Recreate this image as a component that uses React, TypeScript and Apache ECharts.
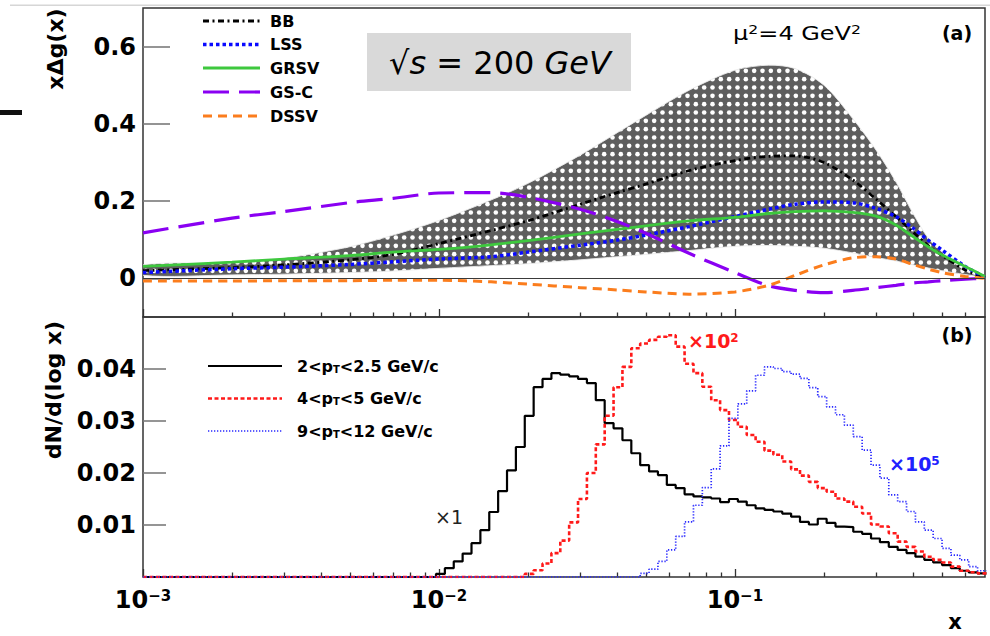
import React, { useEffect, useRef } from 'react';
import * as echarts from 'echarts';

const FONT = '"DejaVu Sans", "Liberation Sans", Arial, sans-serif';

// ---------- Panel (a): x*Delta g(x) at mu^2 = 4 GeV^2 ----------
const xKnots = [0.001, 0.002, 0.003, 0.005, 0.007, 0.01, 0.015, 0.02, 0.03, 0.04, 0.05, 0.07, 0.1, 0.13, 0.16, 0.2, 0.25, 0.3, 0.35, 0.4, 0.45, 0.5, 0.6, 0.7];
const bbCentral = [0.020, 0.028, 0.035, 0.048, 0.062, 0.090, 0.124, 0.149, 0.192, 0.222, 0.244, 0.279, 0.305, 0.316, 0.317, 0.300, 0.255, 0.205, 0.160, 0.120, 0.085, 0.060, 0.022, 0.003];
const bbBandLow = [0.008, 0.009, 0.011, 0.015, 0.019, 0.026, 0.033, 0.038, 0.048, 0.056, 0.062, 0.072, 0.083, 0.085, 0.083, 0.078, 0.066, 0.054, 0.045, 0.035, 0.027, 0.020, 0.010, 0.002];
const bbBandHigh = [0.035, 0.041, 0.052, 0.082, 0.112, 0.150, 0.203, 0.246, 0.319, 0.377, 0.422, 0.487, 0.539, 0.552, 0.543, 0.500, 0.414, 0.332, 0.250, 0.168, 0.104, 0.069, 0.020, 0.002];
const lss = [0.015, 0.025, 0.029, 0.036, 0.043, 0.050, 0.056, 0.068, 0.086, 0.099, 0.112, 0.134, 0.160, 0.179, 0.192, 0.198, 0.196, 0.181, 0.160, 0.130, 0.099, 0.074, 0.031, 0.003];
const grsv = [0.031, 0.042, 0.050, 0.059, 0.068, 0.075, 0.087, 0.098, 0.115, 0.127, 0.136, 0.149, 0.158, 0.168, 0.173, 0.175, 0.171, 0.161, 0.138, 0.108, 0.082, 0.061, 0.031, 0.005];
const gsc = [0.118, 0.156, 0.173, 0.196, 0.207, 0.221, 0.222, 0.210, 0.179, 0.147, 0.117, 0.065, 0.015, -0.019, -0.031, -0.037, -0.031, -0.024, -0.018, -0.012, -0.009, -0.006, -0.002, 0.0];
const dssv = [-0.007, -0.007, -0.006, -0.006, -0.005, -0.005, -0.009, -0.015, -0.024, -0.030, -0.035, -0.041, -0.035, -0.018, 0.008, 0.035, 0.053, 0.056, 0.050, 0.036, 0.024, 0.015, 0.005, 0.0];
const curveNames = ['BB', 'LSS', 'GRSV', 'GS-C', 'DSSV'];

// ---------- Panel (b): dN/d(log x) histograms ----------
const histLogMin = -3;
const histLogBinWidth = 0.03;
const ptBinNames = ['2<pT<2.5 GeV/c', '4<pT<5 GeV/c', '9<pT<12 GeV/c'];
const scaleLabels = ['×1', '×10', '×10'];
const hist1FirstBin = 33;
const hist1 = [0.0006, 0.0017, 0.0030, 0.0045, 0.0065, 0.0090, 0.0125, 0.0165, 0.0205, 0.0250, 0.0310, 0.0365, 0.0381, 0.0392, 0.0389, 0.0386, 0.0381, 0.0373, 0.0340, 0.0296, 0.0286, 0.0263, 0.0238, 0.0215, 0.0203, 0.0196, 0.0177, 0.0171, 0.0159, 0.0155, 0.0153, 0.0151, 0.0144, 0.0150, 0.0145, 0.0138, 0.0132, 0.0129, 0.0126, 0.0122, 0.0116, 0.0106, 0.0101, 0.0112, 0.0104, 0.0097, 0.0096, 0.0087, 0.0083, 0.0074, 0.0067, 0.0058, 0.0052, 0.0046, 0.0039, 0.0033, 0.0028, 0.0023, 0.0017, 0.0012, 0.0009, 0.0007];
const hist2FirstBin = 43;
const hist2 = [0.0006, 0.0013, 0.0026, 0.0046, 0.0070, 0.0105, 0.0150, 0.0200, 0.0255, 0.0310, 0.0365, 0.0404, 0.0440, 0.0449, 0.0456, 0.0462, 0.0465, 0.0443, 0.0410, 0.0392, 0.0366, 0.0340, 0.0321, 0.0302, 0.0289, 0.0273, 0.0260, 0.0243, 0.0235, 0.0222, 0.0207, 0.0195, 0.0183, 0.0171, 0.0164, 0.0151, 0.0145, 0.0135, 0.0122, 0.0101, 0.0097, 0.0084, 0.0068, 0.0058, 0.0049, 0.0039, 0.0033, 0.0028, 0.0020, 0.0012, 0.0009, 0.0007];
const hist3FirstBin = 56;
const hist3 = [0.0007, 0.0015, 0.0030, 0.0052, 0.0078, 0.0106, 0.0138, 0.0172, 0.0208, 0.0252, 0.0305, 0.0333, 0.0358, 0.0388, 0.0404, 0.0401, 0.0395, 0.0390, 0.0382, 0.0364, 0.0347, 0.0327, 0.0312, 0.0292, 0.0270, 0.0244, 0.0215, 0.0190, 0.0158, 0.0145, 0.0126, 0.0106, 0.0090, 0.0074, 0.0055, 0.0042, 0.0033, 0.0020, 0.0012];

// ---------- Axes ----------
const xMin = 0.001;
const xMax = 0.7;
const xMajorTicks = [0.001, 0.01, 0.1];
const xMinorTicks = [0.002, 0.003, 0.004, 0.005, 0.006, 0.007, 0.008, 0.009, 0.02, 0.03, 0.04, 0.05, 0.06, 0.07, 0.08, 0.09, 0.2, 0.3, 0.4, 0.5, 0.6];
const yTicksA = [0, 0.2, 0.4, 0.6];
const yTicksB = [0.01, 0.02, 0.03, 0.04];

const curveStyles: Record<string, { color: string; width: number; dash: any }> = {
  BB: { color: '#000000', width: 2.8, dash: [6, 3.5, 2, 3.5] },
  LSS: { color: '#0a0aff', width: 3.5, dash: [3.5, 3] },
  GRSV: { color: '#3ec83e', width: 2.8, dash: 'solid' },
  'GS-C': { color: '#8a00f2', width: 3.2, dash: [26, 10] },
  DSSV: { color: '#fb7d1d', width: 3, dash: [9, 6] },
};
const curveData: Record<string, number[]> = { BB: bbCentral, LSS: lss, GRSV: grsv, 'GS-C': gsc, DSSV: dssv };
const histStyles = [
  { color: '#000000', width: 2.2, dash: 'solid' as any },
  { color: '#ff1a1a', width: 2.6, dash: [4, 2.5] },
  { color: '#2a2aff', width: 1.7, dash: [1.3, 1.7] },
];

function stepData(first: number, values: number[]) {
  const pts: number[][] = [];
  const n = first + values.length;
  for (let k = 0; k < n; k++) {
    const v = k < first ? 0 : values[k - first];
    pts.push([Math.pow(10, histLogMin + histLogBinWidth * k), v]);
  }
  pts.push([Math.pow(10, histLogMin + histLogBinWidth * n), values[values.length - 1]]);
  return pts;
}

function makeDotPattern(): any {
  const tile = 25;
  const c = document.createElement('canvas');
  c.width = tile;
  c.height = tile;
  const ctx = c.getContext('2d');
  if (!ctx) return '#5e5e5e';
  ctx.fillStyle = '#5e5e5e';
  ctx.fillRect(0, 0, tile, tile);
  ctx.fillStyle = '#ffffff';
  const step = tile / 3;
  for (let i = 0; i < 3; i++) {
    for (let j = 0; j < 3; j++) {
      ctx.beginPath();
      ctx.arc(step / 2 + i * step, step / 2 + j * step, 2.3, 0, Math.PI * 2);
      ctx.fill();
    }
  }
  return { image: c, repeat: 'repeat' };
}

function logAxis(gridIndex: number, tickLen: number, ticks: number[], labels: boolean) {
  return {
    gridIndex,
    type: 'log',
    logBase: 10,
    min: xMin,
    max: xMax,
    position: 'bottom',
    axisLine: { show: false, onZero: false },
    splitLine: { show: false },
    minorTick: { show: false },
    axisTick: { show: true, inside: true, length: tickLen, customValues: ticks, lineStyle: { color: '#333', width: 1.3 } },
    axisLabel: labels
      ? {
          show: true,
          customValues: xMajorTicks,
          margin: 11,
          formatter: (v: number) => '{b|10}{s|' + String(Math.round(Math.log10(v))).replace('-', '−') + '}',
          rich: {
            b: { fontSize: 24, fontWeight: 'bold', fontFamily: FONT, color: '#000' },
            s: { fontSize: 15, fontWeight: 'bold', fontFamily: FONT, color: '#000', verticalAlign: 'top' },
          },
        }
      : { show: false },
  };
}

function valueAxis(gridIndex: number, min: number, max: number, ticks: number[], tickLen: number) {
  return {
    gridIndex,
    type: 'value',
    min,
    max,
    axisLine: { show: false, onZero: false },
    splitLine: { show: false },
    axisTick: { show: true, inside: true, length: tickLen, customValues: ticks, lineStyle: { color: '#7a7a7a', width: 1.6 } },
    axisLabel: { show: true, customValues: ticks, margin: 7, fontSize: 24, fontWeight: 'bold', fontFamily: FONT, color: '#000' },
  };
}

function buildOption() {
  const series: any[] = [];
  const pattern = makeDotPattern();
  // BB uncertainty band drawn as one polygon through the chart's own coordinate system
  series.push({
    type: 'custom', name: 'BB band', xAxisIndex: 0, yAxisIndex: 0, z: 1, silent: true, clip: true,
    data: xKnots.map((x, i) => [x, bbBandLow[i], bbBandHigh[i]]),
    encode: { x: 0, y: [1, 2] },
    renderItem: (params: any, api: any) => {
      if (params.dataIndex !== 0) return null;
      const upper = xKnots.map((x, i) => api.coord([x, bbBandHigh[i]]));
      const lower = xKnots.map((x, i) => api.coord([x, bbBandLow[i]])).reverse();
      return {
        type: 'polygon',
        shape: { points: upper.concat(lower), smooth: 0.3 },
        style: { fill: pattern, stroke: 'rgba(235,235,235,0.9)', lineWidth: 1 },
      };
    },
  });
  curveNames.forEach((name) => {
    const st = curveStyles[name];
    const s: any = {
      type: 'line', name, xAxisIndex: 0, yAxisIndex: 0, smooth: 0.3, symbol: 'none', z: 3,
      lineStyle: { color: st.color, width: st.width, type: st.dash },
      itemStyle: { color: st.color },
      data: xKnots.map((x, i) => [x, curveData[name][i]]),
    };
    if (name === 'BB') {
      s.markLine = {
        silent: true, symbol: ['none', 'none'], label: { show: false }, animation: false,
        lineStyle: { color: '#3a3a3a', width: 1.2, type: 'solid' },
        data: [{ yAxis: 0 }],
      };
    }
    series.push(s);
  });
  const hists = [stepData(hist1FirstBin, hist1), stepData(hist2FirstBin, hist2), stepData(hist3FirstBin, hist3)];
  hists.forEach((d, i) => {
    const st = histStyles[i];
    series.push({
      type: 'line', name: ptBinNames[i], xAxisIndex: 2, yAxisIndex: 1, step: 'end', symbol: 'none', z: 3 + i,
      lineStyle: { color: st.color, width: st.width, type: st.dash },
      itemStyle: { color: st.color },
      data: d,
    });
  });

  const g: any[] = [];
  // scan artefacts at the page edge
  g.push({ type: 'rect', shape: { x: 10, y: 4.5, width: 980, height: 1.5 }, style: { fill: '#d6d6d6' }, silent: true });
  g.push({ type: 'rect', shape: { x: 0, y: 110, width: 22, height: 5 }, style: { fill: '#111' }, silent: true });
  // energy box
  g.push({ type: 'rect', shape: { x: 367, y: 33, width: 264, height: 58 }, style: { fill: '#d9d9d9' }, silent: true });
  g.push({
    type: 'text', x: 500, y: 63, silent: true,
    style: {
      text: '{n|√}{i|s}{n| = 200 }{i|GeV}', textAlign: 'center', textVerticalAlign: 'middle', align: 'center', verticalAlign: 'middle',
      rich: {
        n: { fontSize: 32, fontFamily: FONT, fill: '#000' },
        i: { fontSize: 32, fontFamily: FONT, fontStyle: 'italic', fill: '#000' },
      },
    },
  });
  g.push({
    type: 'text', x: 797, y: 33, scaleX: 1.2, silent: true,
    style: {
      text: '{t|μ}{s|2}{t|=4 GeV}{s|2}', textAlign: 'center', textVerticalAlign: 'middle', align: 'center', verticalAlign: 'middle',
      rich: {
        t: { fontSize: 20, fontFamily: FONT, fill: '#000' },
        s: { fontSize: 13, fontFamily: FONT, fill: '#000', verticalAlign: 'top' },
      },
    },
  });
  const plain = (text: string, x: number, y: number, size: number, bold: boolean, fill = '#000', align = 'center', extra: any = {}) => ({
    type: 'text', x, y, silent: true, ...extra,
    style: { text, fontSize: size, fontWeight: bold ? 'bold' : 'normal', fontFamily: FONT, fill, textAlign: align, align, textVerticalAlign: 'middle', verticalAlign: 'middle' },
  });
  g.push(plain('(a)', 957, 33, 19, true));
  g.push(plain('(b)', 957, 335, 19, true));
  g.push(plain('xΔg(x)', 55, 49, 22, true, '#000', 'center', { rotation: Math.PI / 2 }));
  g.push(plain('dN/d(log x)', 53, 390, 22, true, '#000', 'center', { rotation: Math.PI / 2 }));
  g.push(plain('x', 955, 622, 21, true));
  // legend (a)
  const rowsA = [21, 44.5, 68, 92, 116];
  curveNames.forEach((name, i) => {
    const st = curveStyles[name];
    g.push({ type: 'line', silent: true, shape: { x1: 203, y1: rowsA[i], x2: 260, y2: rowsA[i] }, style: { stroke: st.color, lineWidth: st.width, lineDash: st.dash === 'solid' ? null : st.dash } });
    g.push(plain(name, 270, rowsA[i], 16, true, '#000', 'left'));
  });
  // legend (b)
  const rowsB = [366, 398.5, 431];
  ptBinNames.forEach((name, i) => {
    const st = histStyles[i];
    g.push({ type: 'line', silent: true, shape: { x1: 208, y1: rowsB[i], x2: 282, y2: rowsB[i] }, style: { stroke: st.color, lineWidth: st.width, lineDash: st.dash === 'solid' ? null : st.dash } });
    const parts = name.split('pT');
    g.push({
      type: 'text', x: 297, y: rowsB[i], silent: true,
      style: {
        text: '{t|' + parts[0] + 'p}{u|T}{t|' + parts[1] + '}', textAlign: 'left', align: 'left', textVerticalAlign: 'middle', verticalAlign: 'middle',
        rich: {
          t: { fontSize: 16, fontWeight: 'bold', fontFamily: FONT, fill: '#000' },
          u: { fontSize: 10, fontWeight: 'bold', fontFamily: FONT, fill: '#000', verticalAlign: 'bottom' },
        },
      },
    });
  });
  // scale factors
  g.push(plain(scaleLabels[0], 449, 517, 19, false, '#222'));
  const sup = (base: string, exp: string, x: number, y: number, fill: string) => ({
    type: 'text', x, y, silent: true,
    style: {
      text: '{b|' + base + '}{s|' + exp + '}', textAlign: 'left', align: 'left', textVerticalAlign: 'middle', verticalAlign: 'middle',
      rich: {
        b: { fontSize: 19, fontWeight: 'bold', fontFamily: FONT, fill },
        s: { fontSize: 12, fontWeight: 'bold', fontFamily: FONT, fill, verticalAlign: 'top' },
      },
    },
  });
  g.push(sup(scaleLabels[1], '2', 688, 341, '#ff1a1a'));
  g.push(sup(scaleLabels[2], '5', 889, 464, '#2020ff'));

  return {
    animation: false,
    backgroundColor: '#ffffff',
    grid: [
      { left: 143, top: 8, width: 842, height: 309, show: true, borderColor: '#333', borderWidth: 1.5, backgroundColor: 'transparent' },
      { left: 143, top: 317, width: 842, height: 260, show: true, borderColor: '#333', borderWidth: 1.5, backgroundColor: 'transparent' },
    ],
    xAxis: [
      logAxis(0, 8, xMajorTicks, false),
      logAxis(0, 4.5, xMinorTicks, false),
      logAxis(1, 8, xMajorTicks, true),
      logAxis(1, 4.5, xMinorTicks, false),
    ],
    yAxis: [valueAxis(0, -0.1, 0.7, yTicksA, 27), valueAxis(1, 0, 0.05, yTicksB, 23)],
    series,
    graphic: { elements: g },
  };
}

export default function App() {
  const ref = useRef<HTMLDivElement>(null);
  useEffect(() => {
    if (!ref.current) return;
    const chart = echarts.init(ref.current, undefined, { renderer: 'svg' });
    chart.setOption(buildOption() as any);
    return () => chart.dispose();
  }, []);
  return <div ref={ref} style={{ position: 'absolute', left: 0, top: 0, width: 990, height: 636, background: '#fff' }} />;
}
